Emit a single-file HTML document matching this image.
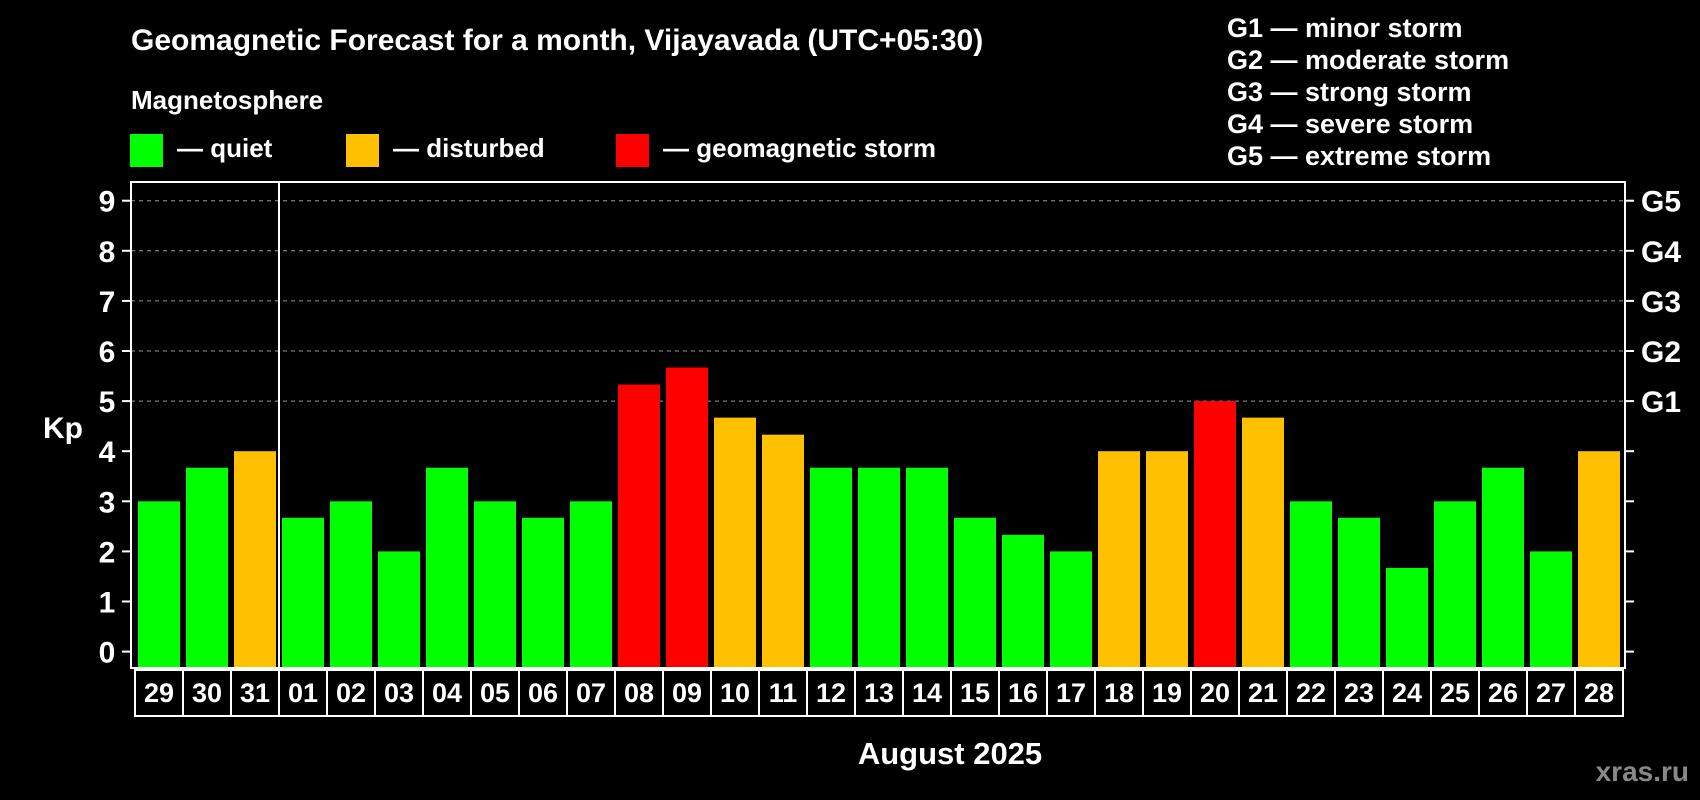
<!DOCTYPE html>
<html><head><meta charset="utf-8"><style>
html,body{margin:0;padding:0;background:#000;}
svg{display:block;font-family:"Liberation Sans",Arial,sans-serif;font-weight:bold;}
</style></head><body>
<svg id="c" width="1700" height="800" viewBox="0 0 1700 800">
<text x="131" y="50" fill="#fff" font-size="30">Geomagnetic Forecast for a month, Vijayavada (UTC+05:30)</text>
<text x="131" y="109" fill="#fff" font-size="26">Magnetosphere</text>
<rect x="130" y="134" width="33" height="33" fill="#00ff00"/>
<text x="177" y="157" fill="#fff" font-size="26">— quiet</text>
<rect x="346" y="134" width="33" height="33" fill="#ffc000"/>
<text x="393" y="157" fill="#fff" font-size="26">— disturbed</text>
<rect x="616" y="134" width="33" height="33" fill="#ff0000"/>
<text x="663" y="157" fill="#fff" font-size="26">— geomagnetic storm</text>
<g fill="#fff" font-size="27">
<text x="1227" y="37">G1 — minor storm</text>
<text x="1227" y="69">G2 — moderate storm</text>
<text x="1227" y="101">G3 — strong storm</text>
<text x="1227" y="133">G4 — severe storm</text>
<text x="1227" y="165">G5 — extreme storm</text>
</g>
<text x="63" y="438" fill="#fff" font-size="30" text-anchor="middle">Kp</text>
<text x="950" y="764" fill="#fff" font-size="31" text-anchor="middle">August 2025</text>
<text x="1689" y="781" fill="#888" font-size="28" text-anchor="end">xras.ru</text>
<g id="plot"></g>
</svg>
<script>
const dates=["29","30","31","01","02","03","04","05","06","07","08","09","10","11","12","13","14","15","16","17","18","19","20","21","22","23","24","25","26","27","28"];
const kp=[3,3.67,4,2.67,3,2,3.67,3,2.67,3,5.33,5.67,4.67,4.33,3.67,3.67,3.67,2.67,2.33,2,4,4,5,4.67,3,2.67,1.67,3,3.67,2,4];
const yTicks=[0,1,2,3,4,5,6,7,8,9];
const gLabels=["G1","G2","G3","G4","G5"];
const NS="http://www.w3.org/2000/svg";
const g=document.getElementById('plot');
const L=131,R=1625,T=182,B=668,y0=651.6,unit=50.1,x0=138,pitch=48,bw=42;
const y=v=>y0-v*unit;
const x=i=>x0+i*pitch;
function mk(t,a){const e=document.createElementNS(NS,t);for(const k in a)e.setAttribute(k,a[k]);g.appendChild(e);return e;}
yTicks.forEach(v=>{
 if(v>=5){const l=mk('line',{x1:L,x2:R,y1:y(v),y2:y(v),stroke:'#999','stroke-width':1,'stroke-dasharray':'4,4'});
 
 }
 const t1=mk('line',{x1:L-9,x2:L,y1:y(v),y2:y(v),stroke:'#fff','stroke-width':2});
 
 
 const t2=mk('line',{x1:R,x2:R+9,y1:y(v),y2:y(v),stroke:'#fff','stroke-width':2});
 
 
 const tx=mk('text',{x:107,y:y(v)+11,fill:'#fff','font-size':30,'text-anchor':'middle'});
 tx.textContent=v;
 
 
});
gLabels.forEach((s,i)=>{
 const tx=mk('text',{x:1641,y:y(5+i)+11,fill:'#fff','font-size':30});
 tx.textContent=s;
 
 
});
kp.forEach((v,i)=>{
 const c=v>=5?'#ff0000':(v>=4?'#ffc000':'#00ff00');
 const r=mk('rect',{x:x(i),y:y(v),width:bw,height:B-y(v),fill:c});
 
 
 const bx=mk('rect',{x:x(i)-3,y:B+2,width:pitch,height:46,fill:'none',stroke:'#fff','stroke-width':2});
 
 
 const tx=mk('text',{x:x(i)+bw/2,y:B+34,fill:'#fff','font-size':27,'text-anchor':'middle'});
 tx.textContent=dates[i];
 
 
});
const sep=mk('line',{x1:x(3)-3,x2:x(3)-3,y1:T,y2:B,stroke:'#fff','stroke-width':2});


const fr=mk('rect',{x:L,y:T,width:R-L,height:B-T,fill:'none',stroke:'#fff','stroke-width':2});


</script>
</body></html>
